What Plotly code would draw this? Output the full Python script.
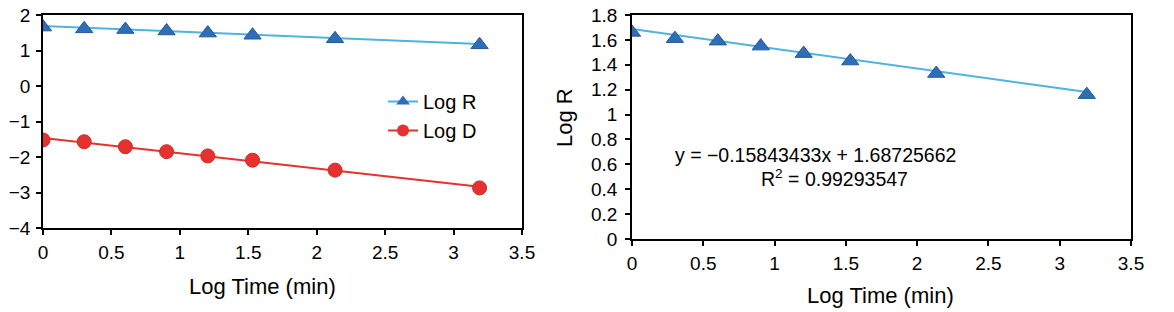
import numpy as np
import plotly.graph_objects as go

# ---- data ----
log_time = [0.0, 0.301, 0.602, 0.903, 1.204, 1.531, 2.134, 3.19]
log_r = [1.66, 1.61, 1.59, 1.55, 1.49, 1.43, 1.33, 1.16]
log_d = [-1.52, -1.57, -1.71, -1.85, -1.97, -2.09, -2.37, -2.87]

fit_slope = -0.15843433
fit_intercept = 1.68725662
r_squared = 0.99293547

x_ticks = [0, 0.5, 1, 1.5, 2, 2.5, 3, 3.5]
left_y_ticks = [-4, -3, -2, -1, 0, 1, 2]
right_y_ticks = [0, 0.2, 0.4, 0.6, 0.8, 1, 1.2, 1.4, 1.6, 1.8]

x_title = "Log Time (min)"
y_title_right = "Log R"

# ---- styling ----
FONT = "Liberation Sans, Arial, Helvetica, sans-serif"
BLUE_LINE = "#4EB3E0"
BLUE_MARK = "#2E6DB8"
BLUE_EDGE = "#24589A"
RED = "#E6312E"

W, H = 1174, 312

def px_x(v):
    return v / W

def px_y(v):
    return 1 - v / H

# trend lines
xr = np.array([log_time[0], log_time[-1]])
r_fit = fit_slope * xr + fit_intercept
d_coef = np.polyfit(log_time, log_d, 1)
d_fit = np.polyval(d_coef, xr)

fig = go.Figure()

# Left panel
fig.add_trace(go.Scatter(x=xr, y=r_fit, mode="lines", line=dict(color=BLUE_LINE, width=2),
                         showlegend=False, hoverinfo="skip", xaxis="x", yaxis="y"))
fig.add_trace(go.Scatter(x=xr, y=d_fit, mode="lines", line=dict(color=RED, width=2),
                         showlegend=False, hoverinfo="skip", xaxis="x", yaxis="y"))
fig.add_trace(go.Scatter(x=log_time, y=log_r, mode="markers", name="Log R", showlegend=False,
                         marker=dict(symbol="triangle-up", size=15, color=BLUE_MARK,
                                     line=dict(color=BLUE_EDGE, width=1)),
                         xaxis="x", yaxis="y"))
fig.add_trace(go.Scatter(x=log_time, y=log_d, mode="markers", name="Log D", showlegend=False,
                         marker=dict(symbol="circle", size=14, color=RED,
                                     line=dict(color="#D02A28", width=1)),
                         xaxis="x", yaxis="y"))
# legend entries (line + marker)
fig.add_trace(go.Scatter(x=[None], y=[None], mode="lines+markers", name="Log R",
                         line=dict(color=BLUE_LINE, width=2),
                         marker=dict(symbol="triangle-up", size=12, color=BLUE_MARK),
                         xaxis="x", yaxis="y"))
fig.add_trace(go.Scatter(x=[None], y=[None], mode="lines+markers", name="Log D",
                         line=dict(color=RED, width=2),
                         marker=dict(symbol="circle", size=12, color=RED),
                         xaxis="x", yaxis="y"))

# Right panel
fig.add_trace(go.Scatter(x=xr, y=r_fit, mode="lines", line=dict(color=BLUE_LINE, width=2),
                         showlegend=False, hoverinfo="skip", xaxis="x2", yaxis="y2"))
fig.add_trace(go.Scatter(x=log_time, y=log_r, mode="markers", showlegend=False,
                         marker=dict(symbol="triangle-up", size=15, color=BLUE_MARK,
                                     line=dict(color=BLUE_EDGE, width=1)),
                         xaxis="x2", yaxis="y2"))

axis_common = dict(showgrid=False, zeroline=False, showline=True, linecolor="black",
                   linewidth=1.5, mirror=True, ticks="outside", tickcolor="black",
                   ticklen=5, tickwidth=1.5, automargin=False,
                   tickfont=dict(family=FONT, size=19, color="black"))

title_font = dict(family=FONT, size=22, color="black")
eq_font = dict(family=FONT, size=19.5, color="black")

fig.update_layout(
    width=W, height=H,
    margin=dict(l=0, r=0, t=0, b=0, autoexpand=False),
    paper_bgcolor="white", plot_bgcolor="white",
    font=dict(family=FONT, color="black"),
    hovermode=False,
    xaxis=dict(domain=[px_x(43), px_x(522)], range=[0, 3.5], tickvals=x_ticks,
               anchor="y", ticklabelstandoff=1, **axis_common),
    yaxis=dict(domain=[px_y(228), px_y(15)], range=[-4, 2], tickvals=left_y_ticks,
               anchor="x", ticklabelstandoff=2, **axis_common),
    xaxis2=dict(domain=[px_x(632), px_x(1131)], range=[0, 3.5], tickvals=x_ticks,
                anchor="y2", ticklabelstandoff=1, **axis_common),
    yaxis2=dict(domain=[px_y(239), px_y(15)], range=[0, 1.8], tickvals=right_y_ticks,
                anchor="x2", ticklabelstandoff=4, **axis_common),
    legend=dict(x=px_x(383), y=px_y(82), xanchor="left", yanchor="top",
                bgcolor="rgba(0,0,0,0)", font=dict(family=FONT, size=20, color="black"),
                itemwidth=30, tracegroupgap=0),
    annotations=[
        dict(x=px_x(262), y=px_y(286), xref="paper", yref="paper", showarrow=False,
             xanchor="center", yanchor="middle", text=x_title, font=title_font),
        dict(x=px_x(880), y=px_y(295), xref="paper", yref="paper", showarrow=False,
             xanchor="center", yanchor="middle", text=x_title, font=title_font),
        dict(x=px_x(564), y=px_y(118), xref="paper", yref="paper", showarrow=False,
             xanchor="center", yanchor="middle", text=y_title_right, textangle=-90,
             font=title_font),
        dict(x=px_x(815), y=px_y(155), xref="paper", yref="paper", showarrow=False,
             xanchor="center", yanchor="middle",
             text=f"y = \u2212{abs(fit_slope):.8f}x + {fit_intercept:.8f}", font=eq_font),
        dict(x=px_x(834), y=px_y(178), xref="paper", yref="paper", showarrow=False,
             xanchor="center", yanchor="middle",
             text=f"R<sup>2</sup> = {r_squared:.8f}", font=eq_font),
    ],
)

# remove the default page margin so the 1174x312 figure fills the window exactly
fig.write_html("out.html", config={"displayModeBar": False},
               post_script="document.body.style.margin='0px';")
